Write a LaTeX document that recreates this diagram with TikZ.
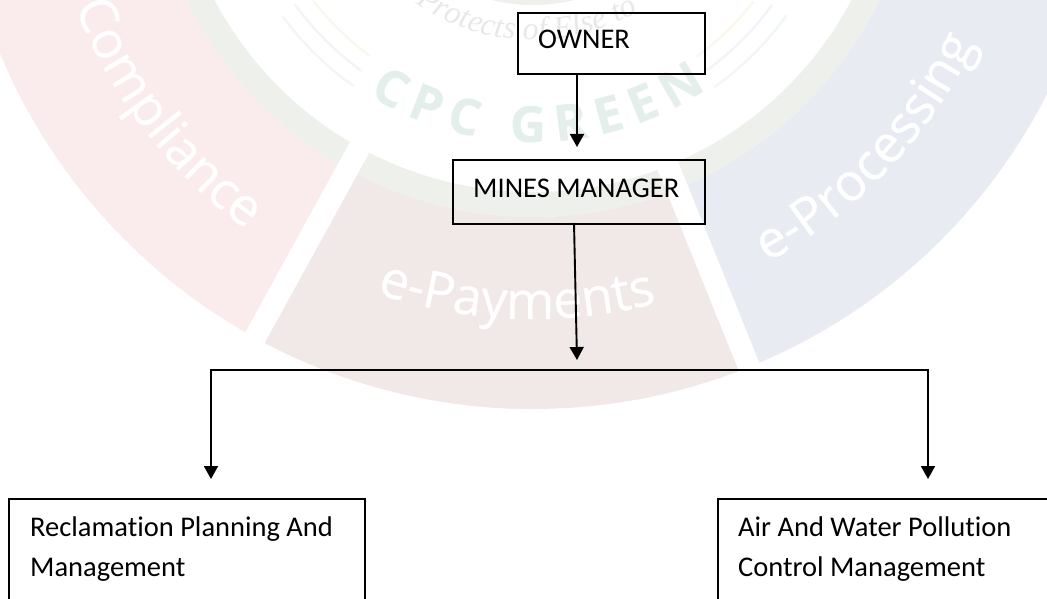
\documentclass[tikz,border=0pt]{standalone}
\usepackage{fontspec}
\setmainfont[Ligatures=NoCommon]{Carlito}
\newfontfamily\wmfont[FakeBold=0.4]{Open Sans}
\newfontfamily\wmbold{Open Sans Bold}
\newfontfamily\wmserif{Liberation Serif}
\usetikzlibrary{arrows.meta,decorations.text}
\definecolor{pinkseg}{HTML}{FAECEC}
\definecolor{paysseg}{HTML}{F1E8E8}
\definecolor{blueseg}{HTML}{E8EBF1}
\definecolor{greenring}{HTML}{EEF0EC}
\definecolor{cpcgreen}{HTML}{E4EFEB}
\definecolor{protectgrey}{HTML}{E8E8E8}
\definecolor{wmorange}{HTML}{FCF6EE}
\definecolor{wmblue}{HTML}{F2F4F9}
\definecolor{wmgreen}{HTML}{F0F7F4}
\tikzset{
  boxnode/.style={draw=black,line width=1.9pt,fill=none,anchor=north west,inner sep=0pt},
  lbl/.style={font=\fontsize{28.5}{40}\selectfont,inner sep=0pt,align=left,text=black},
  conn/.style={draw=black,line width=1.9pt},
  arrowconn/.style={conn,-{Triangle[length=13pt,width=14pt]}},
  wmline/.style={line width=2.5pt,line cap=round},
}
\begin{document}
\begin{tikzpicture}[x=1pt,y=1pt]
\useasboundingbox (0,0) rectangle (1047,-599);
\begin{scope}
\clip (0,0) rectangle (1047,-599);
\begin{scope}[shift={(533,168)}]
\fill[pinkseg] (180:577) arc[start angle=180,end angle=270,radius=577] -- (270:385) arc[start angle=270,end angle=180,radius=385] -- cycle;
\fill[paysseg] (-118.8:577) arc[start angle=-118.8,end angle=-68,radius=577] -- (-68:385) arc[start angle=-68,end angle=-118.8,radius=385] -- cycle;
\fill[blueseg] (-68:577) arc[start angle=-68,end angle=0,radius=577] -- (0:385) arc[start angle=0,end angle=-68,radius=385] -- cycle;
\fill[greenring,even odd rule] (0,0) circle[radius=385] (0,0) circle[radius=360];
\draw[white,line width=22pt] (-118.8:355) -- (-118.8:585);
\draw[white,line width=22pt] (-68:355) -- (-68:585);
\fill[greenring] (0,0) circle[radius=173];
\draw[wmline,wmorange] (-142.3:277) arc[start angle=-142.3,end angle=-126.2,radius=277];
\draw[wmline,wmblue] (-144:294) arc[start angle=-144,end angle=-125.7,radius=294];
\draw[wmline,wmgreen] (-143.5:311) arc[start angle=-143.5,end angle=-125.2,radius=311];
\draw[wmline,wmorange] (-53.9:278) arc[start angle=-53.9,end angle=-37.7,radius=278];
\draw[wmline,wmblue] (-53.8:295) arc[start angle=-53.8,end angle=-36,radius=295];
\draw[wmline,wmgreen] (-54.5:313) arc[start angle=-54.5,end angle=-36,radius=313];
\path[decorate,decoration={text along path,text align=center,
  text={|\fontsize{52}{52}\wmfont\color{white}|Compliance}}]
  (-175:490) arc[start angle=-175,end angle=-110,radius=490];
\path[decorate,decoration={text along path,text align=center,
  text={|\fontsize{52}{52}\wmfont\color{white}|e-Payments}}]
  (-126.5:487) arc[start angle=-126.5,end angle=-57.5,radius=487];
\path[decorate,decoration={text along path,text align=center,
  text={|\fontsize{52}{52}\wmfont\color{white}|e-Processing}}]
  (-76:490) arc[start angle=-76,end angle=-11,radius=490];
\path[decorate,decoration={text along path,text align={fit to path},
  text={|\fontsize{50}{50}\wmfont\bfseries\color{cpcgreen}|CPC GREEN}}]
  (-122:310) arc[start angle=-122,end angle=-56,radius=310];
\path[decorate,decoration={text along path,text align=center,
  text={|\fontsize{32}{32}\wmserif\itshape\color{protectgrey}|Protects of Else to}}]
  (-127:208) arc[start angle=-127,end angle=-57,radius=208];
\end{scope}
\end{scope}
% boxes
\node[boxnode,minimum width=187pt,minimum height=61pt] (owner) at (517,-12) {};
\node[boxnode,minimum width=252pt,minimum height=64pt] (mgr) at (452,-159) {};
\node[boxnode,minimum width=356pt,minimum height=130pt] (recl) at (8,-498) {};
\node[boxnode,minimum width=356pt,minimum height=130pt] (air) at (717,-498) {};
% labels
\node[lbl,anchor=base west] (ownerlbl) at (538,-49) {OWNER};
\node[lbl,anchor=base west] (mgrlbl) at (473,-197) {MINES MANAGER};
\node[lbl,anchor=north west] (recllbl) at (30,-517) {Reclamation Planning And\\Management};
\node[lbl,anchor=north west] (airlbl) at (738,-517) {Air And Water Pollution\\Control Management};
% connector points
\coordinate (ownerend) at (577,-147);
\coordinate (mgrout) at (574,-223);
\coordinate (mgrend) at (577,-360);
\coordinate (bus) at (577,-370);
\coordinate (leftend) at (211,-479);
\coordinate (rightend) at (928,-479);
\draw[arrowconn] (ownerend |- owner.south) -- (ownerend);
\draw[arrowconn] (mgrout) -- (mgrend);
\draw[arrowconn] (bus) -| (leftend);
\draw[arrowconn] (bus) -| (rightend);
\end{tikzpicture}
\end{document}
